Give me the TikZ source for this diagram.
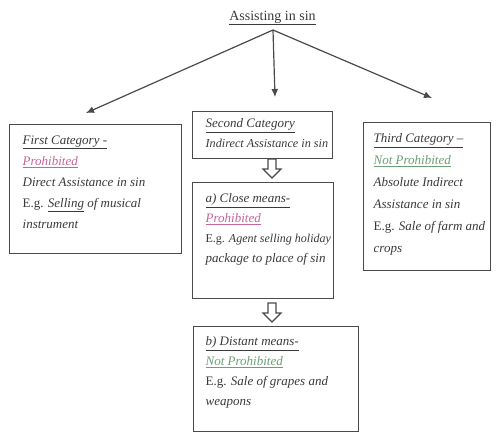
\documentclass[tikz,border=0pt]{standalone}
\usepackage{fontspec}
\setmainfont{Liberation Serif}
\usetikzlibrary{arrows.meta,calc}
\definecolor{txt}{HTML}{3A3A3A}
\definecolor{edge}{HTML}{4A4A4A}
\definecolor{pinkish}{HTML}{C8649A}
\definecolor{greenish}{HTML}{6AA074}
\newcommand{\cbx}[4]{\hspace*{#1}\parbox[t][#3][t]{#2}{#4}}
\newcommand{\tl}[1]{\mbox{#1}}
\newcommand{\eg}{{\upshape E.g.}}
\tikzset{
  cat/.style={draw=edge, line width=1.3pt, anchor=north west, inner xsep=0pt,
    text=txt, font=\fontsize{13}{21}\selectfont\itshape},
  link/.style={draw=edge, line width=1.2pt, -{Latex[length=8pt,width=7pt]}},
  hol/.style={draw=edge, line width=1.1pt, fill=white, line join=miter}
}
\newcommand{\hollowdown}[2]{\draw[hol] (#1,#2) ++(-4,0) -- ++(0,10) -- ++(-5,0) -- ++(9,9) -- ++(9,-9) -- ++(-5,0) -- ++(0,-10) -- cycle;}
\begin{document}
\begin{tikzpicture}[x=1pt,y=-1pt]
\useasboundingbox[fill=white] (0,0) rectangle (497,432);
% title
\node[text=txt, font=\fontsize{14}{16}\selectfont, inner sep=0pt] (title) at (272.5,18) {\underline{Assisting in sin}};
\coordinate (apex) at (273,30);
\coordinate (tipL) at (86,113);
\coordinate (tipM) at (275,97);
\coordinate (tipR) at (432,98);
\draw[link] (apex) -- (tipL);
\draw[link] (apex) -- (tipM);
\draw[link] (apex) -- (tipR);
% boxes
\node[cat, inner ysep=11pt] (b1) at (9,124) {\cbx{13pt}{159pt}{107pt}{%
\tl{\underline{First Category -}}\\
\tl{\color{pinkish}\underline{Prohibited}}\\
\tl{Direct Assistance in sin}\\
\tl{\eg{} \underline{Selling} of musical}\\
\tl{instrument}}};
\node[cat, inner ysep=7pt] (b2) at (192,111) {\cbx{13pt}{127pt}{33pt}{\fontsize{13}{20}\selectfont%
\tl{\underline{Second Category}}\\
\tl{\fontsize{12.2}{20}\selectfont Indirect Assistance in sin}}};
\node[cat, inner ysep=11pt] (b3) at (192,182) {\cbx{13pt}{128pt}{94pt}{\fontsize{13}{20}\selectfont%
\tl{\underline{a) Close means-}}\\
\tl{\color{pinkish}\underline{Prohibited}}\\
\tl{\fontsize{12}{20}\selectfont\eg{} Agent selling holiday}\\
\tl{package to place of sin}}};
\node[cat, inner ysep=10pt] (b4) at (193,326) {\cbx{12pt}{153pt}{85pt}{\fontsize{13}{20}\selectfont%
\tl{\underline{b) Distant means-}}\\
\tl{\color{greenish}\underline{Not Prohibited}}\\
\tl{\eg{} Sale of grapes and}\\
\tl{weapons}}};
\node[cat, inner ysep=11pt] (b5) at (363,122) {\cbx{10pt}{117pt}{126pt}{\fontsize{13}{22}\selectfont%
\tl{\underline{Third Category –}}\\
\tl{\color{greenish}\underline{Not Prohibited}}\\
\tl{Absolute Indirect}\\
\tl{Assistance in sin}\\
\tl{\eg{} Sale of farm and}\\
\tl{crops}}};
% hollow arrows
\hollowdown{272}{159}
\hollowdown{272}{303}
\end{tikzpicture}
\end{document}
